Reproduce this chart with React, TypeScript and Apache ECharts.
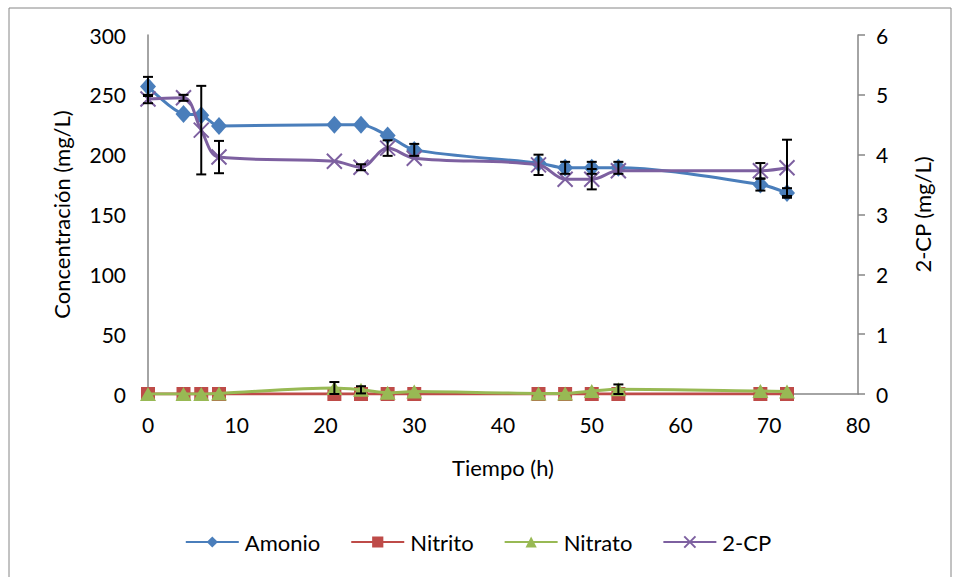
import React, { useEffect, useRef } from "react";
import * as echarts from "echarts";

const tiempo = [0, 4, 6, 8, 21, 24, 27, 30, 44, 47, 50, 53, 69, 72];
const amonio = [257, 234, 233, 224, 225, 225, 216, 204, 193, 189, 189, 189, 175, 168];
const amonioErr = [8, 0, 0, 0, 0, 0, 0, 5, 0, 5, 5, 5, 5, 4];
const nitrito = [0, 0, 0, 0, 0, 0, 0, 0, 0, 0, 0, 0, 0, 0];
const nitrato = [0, 0, 0, 0.5, 5, 3.5, 1, 2, 0.5, 0.5, 2.5, 4, 2.5, 2];
const nitratoErr = [0, 0, 0, 0, 5, 3, 0, 0, 0, 0, 0, 4, 0, 0];
const cp = [4.93, 4.95, 4.41, 3.96, 3.89, 3.79, 4.11, 3.94, 3.83, 3.59, 3.59, 3.73, 3.73, 3.78];
const cpErr = [0.07, 0.05, 0.74, 0.27, 0, 0.05, 0.13, 0, 0.17, 0, 0.17, 0, 0.13, 0.47];

const FONT = "Lato";
const AXIS_COLOR = "#868686";

function pairs(vals: number[]) {
  return tiempo.map((t, i) => [t, vals[i]]);
}
function errData(vals: number[], errs: number[]) {
  return tiempo
    .map((t, i) => [t, vals[i], errs[i]])
    .filter((d) => d[2] > 0);
}

function errSeries(vals: number[], errs: number[], yAxisIndex: number) {
  return {
    type: "custom",
    yAxisIndex,
    z: 10,
    silent: true,
    data: errData(vals, errs),
    renderItem: (params: any, api: any) => {
      const x = api.value(0);
      const y = api.value(1);
      const e = api.value(2);
      const top = api.coord([x, y + e]);
      const bot = api.coord([x, y - e]);
      const hw = 5;
      const style = { stroke: "#000", lineWidth: 2, fill: "none" };
      return {
        type: "group",
        children: [
          { type: "line", shape: { x1: top[0], y1: top[1], x2: bot[0], y2: bot[1] }, style },
          { type: "line", shape: { x1: top[0] - hw, y1: top[1], x2: top[0] + hw, y2: top[1] }, style },
          { type: "line", shape: { x1: bot[0] - hw, y1: bot[1], x2: bot[0] + hw, y2: bot[1] }, style },
        ],
      };
    },
  };
}

const crossPath = "path://M0,0L10,10M10,0L0,10";

export default function App() {
  const ref = useRef<HTMLDivElement>(null);
  useEffect(() => {
    if (!ref.current) return;
    const chart = echarts.init(ref.current, undefined, { renderer: "svg" });
    const labelStyle = { fontFamily: FONT, fontSize: 21, color: "#000" };
    const nameStyle = { fontFamily: FONT, fontSize: 22, color: "#000" };
    chart.setOption({
      animation: false,
      backgroundColor: "#fff",
      textStyle: { fontFamily: FONT },
      graphic: [
        {
          type: "rect",
          shape: { x: 9, y: 8, width: 942, height: 575 },
          style: { fill: "none", stroke: "#868686", lineWidth: 1 },
          silent: true,
        },
      ],
      grid: { left: 148, right: 98, top: 35, bottom: 183 },
      legend: {
        bottom: 19,
        left: "center",
        itemWidth: 53,
        itemHeight: 14,
        itemGap: 30,
        textStyle: { ...nameStyle, padding: [0, 0, 0, 1] },
        data: ["Amonio", "Nitrito", "Nitrato", "2-CP"],
      },
      xAxis: {
        type: "value",
        min: 0,
        max: 80,
        interval: 10,
        name: "Tiempo (h)",
        nameLocation: "middle",
        nameGap: 62,
        nameTextStyle: nameStyle,
        axisLine: { show: true, lineStyle: { color: AXIS_COLOR, width: 1.5 } },
        axisTick: { show: false },
        splitLine: { show: false },
        axisLabel: { ...labelStyle, margin: 20 },
      },
      yAxis: [
        {
          type: "value",
          min: 0,
          max: 300,
          interval: 50,
          name: "Concentración (mg/L)",
          nameLocation: "middle",
          nameGap: 76,
          nameTextStyle: nameStyle,
          axisLine: { show: true, lineStyle: { color: AXIS_COLOR, width: 1.5 } },
          axisTick: { show: false },
          splitLine: { show: false },
          axisLabel: { ...labelStyle, margin: 22 },
        },
        {
          type: "value",
          min: 0,
          max: 6,
          interval: 1,
          position: "right",
          name: "2-CP (mg/L)",
          nameLocation: "middle",
          nameGap: 53,
          nameTextStyle: nameStyle,
          axisLine: { show: true, lineStyle: { color: AXIS_COLOR, width: 1.5 } },
          axisTick: { show: true, inside: false, length: 7, lineStyle: { color: AXIS_COLOR, width: 1.5 } },
          splitLine: { show: false },
          axisLabel: { ...labelStyle, margin: 18 },
        },
      ],
      series: [
        {
          name: "Amonio",
          type: "line",
          data: pairs(amonio),
          smooth: 0.3,
          symbol: "diamond",
          symbolSize: [16, 18],
          lineStyle: { color: "#4A7EBB", width: 3 },
          itemStyle: { color: "#4A7EBB" },
          z: 3,
        },
        {
          name: "Nitrito",
          type: "line",
          data: pairs(nitrito),
          smooth: 0.3,
          symbol: "rect",
          symbolSize: 14,
          lineStyle: { color: "#BE4B48", width: 3 },
          itemStyle: { color: "#BE4B48" },
          z: 2,
        },
        {
          name: "Nitrato",
          type: "line",
          data: pairs(nitrato),
          smooth: 0.3,
          symbol: "triangle",
          symbolSize: [16, 14],
          lineStyle: { color: "#98B954", width: 3 },
          itemStyle: { color: "#98B954" },
          z: 4,
        },
        {
          name: "2-CP",
          type: "line",
          yAxisIndex: 1,
          data: pairs(cp),
          smooth: 0.35,
          symbol: crossPath,
          symbolSize: 15,
          lineStyle: { color: "#7D60A0", width: 3 },
          itemStyle: { color: "#7D60A0", borderColor: "#7D60A0", borderWidth: 2 },
          z: 5,
        },
        errSeries(amonio, amonioErr, 0),
        errSeries(nitrato, nitratoErr, 0),
        errSeries(cp, cpErr, 1),
      ],
    });
    return () => chart.dispose();
  }, []);
  return (
    <div
      ref={ref}
      style={{ position: "fixed", left: 0, top: 0, width: 956, height: 577 }}
    />
  );
}
